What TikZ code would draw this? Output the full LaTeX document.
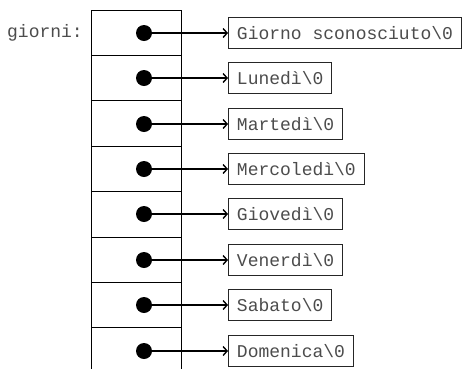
\documentclass[tikz,border=0pt]{standalone}
\usepackage{fontspec}
\setmonofont{Liberation Mono}
\usetikzlibrary{arrows.meta}
\definecolor{txt}{rgb}{0.3,0.3,0.3}
\begin{document}
\begin{tikzpicture}[x=1pt,y=-1pt,
  cell/.style={draw=black,line width=1pt,minimum width=90pt,minimum height=45.4pt,inner sep=0pt},
  dot/.style={circle,fill=black,minimum size=16pt,inner sep=0pt},
  strbox/.style={draw=black!85,line width=0.9pt,anchor=west,minimum height=31pt,inner xsep=8.5pt,inner ysep=0pt,
     font=\ttfamily\fontsize{18pt}{21pt}\selectfont,text=txt},
  lbl/.style={font=\ttfamily\fontsize{18pt}{21pt}\selectfont,text=txt,inner sep=0pt,anchor=east},
  ptr/.style={line width=1.6pt,-{Straight Barb[length=4pt,width=9pt,line width=1.4pt]}}]
\useasboundingbox (0,0) rectangle (465,368);
\clip (0,0) rectangle (465,368);
\foreach \i/\yr/\t in {0/33/Giorno sconosciuto\textbackslash0,1/78/Lunedì\textbackslash0,2/124/Martedì\textbackslash0,3/169/Mercoledì\textbackslash0,4/214/Giovedì\textbackslash0,5/260/Venerdì\textbackslash0,6/305/Sabato\textbackslash0,7/351/Domenica\textbackslash0}{
  \pgfmathsetmacro{\yy}{10+45.4*(\i+0.5)}
  \node[cell] (c\i) at (136.5,\yy) {};
  \node[dot] (d\i) at (144,\yr) {};
  \node[strbox] (s\i) at (228,\yr) {\t};
  \draw[ptr] (d\i.center) -- (s\i.west);
}
\node[lbl] (g) at (83,33) {giorni:};
\end{tikzpicture}
\end{document}
